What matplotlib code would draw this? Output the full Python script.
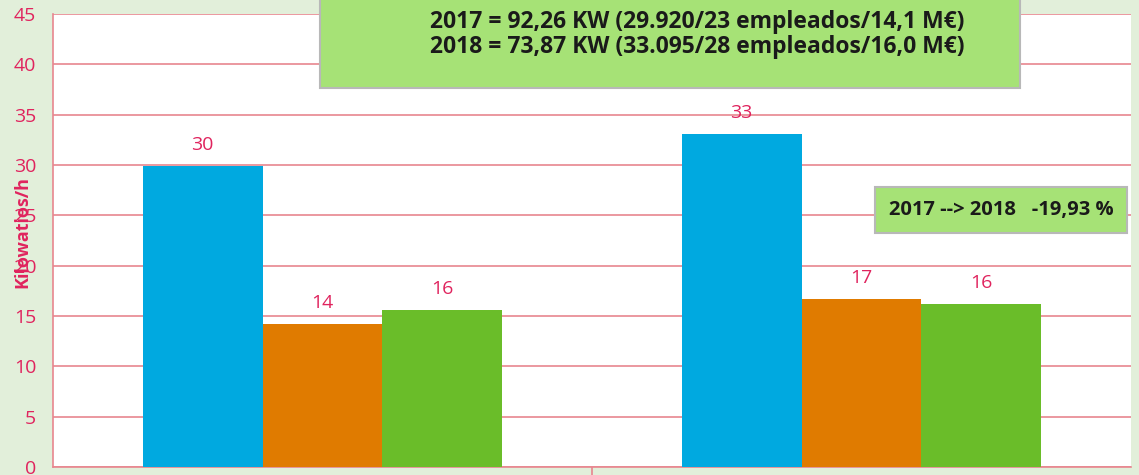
import matplotlib.pyplot as plt
from matplotlib import font_manager
import numpy as np

# -- Data
categories = ['2017', '2018']
serie_a = [29.92, 33.05]
serie_b = [14.2, 16.7]
serie_c = [15.6, 16.2]
labels_a = ['30', '33']
labels_b = ['14', '17']
labels_c = ['16', '16']
yticks = [0, 5, 10, 15, 20, 25, 30, 35, 40, 45]

box_lines = ['2017 = 92,26 KW (29.920/23 empleados/14,1 M€)',
             '2018 = 73,87 KW (33.095/28 empleados/16,0 M€)']
box_small = '2017 --> 2018   -19,93 %'

names = [f.name for f in font_manager.fontManager.ttflist]
fam = 'Liberation Sans Narrow' if 'Liberation Sans Narrow' in names else 'Open Sans'
plt.rcParams['font.family'] = [fam, 'DejaVu Sans']

red = '#E0245E'
grid = '#E8868F'

fig = plt.figure(figsize=(11.39, 4.75), dpi=100)
fig.patch.set_facecolor('#E2EFDA')
ax = fig.add_axes([53/1139, 8/475, (1131-53)/1139, (467-14)/475])
ax.set_facecolor('white')

x = np.arange(len(categories))
w = 0.2226
colors = ['#00A9E0', '#E07B00', '#6ABD29']
for off, vals, labs, c in zip([-w, 0, w], [serie_a, serie_b, serie_c],
                              [labels_a, labels_b, labels_c], colors):
    ax.bar(x + off, vals, width=w, color=c, zorder=3)
    for xi, v, l in zip(x + off, vals, labs):
        ax.text(xi, v + 2.1, l, ha='center', va='center', color=red, fontsize=14)

ax.set_xlim(-0.5, 1.5)
ax.set_ylim(0, 45)
ax.set_yticks(yticks)
ax.set_yticklabels([str(t) for t in yticks], color=red, fontsize=14)
ax.tick_params(axis='y', length=0, pad=12)
ax.set_xticks([0.5])
ax.set_xticklabels([''])
ax.tick_params(axis='x', length=8, color=grid, width=1.2, direction='out')
ax.yaxis.grid(True, color=grid, lw=1.2, zorder=1)
for s in ['top', 'right']:
    ax.spines[s].set_visible(False)
for s in ['left', 'bottom']:
    ax.spines[s].set_color(grid)
    ax.spines[s].set_linewidth(1.2)

fig.text(22/1139, 1 - 232/475, 'Kilowatios/h', rotation=90, ha='center', va='center',
         color=red, fontsize=13, fontweight='bold')

# -- Big green box at the top
fig.patches.append(plt.Rectangle((320/1139, 1 - 88/475), 700/1139, 100/475,
                                 transform=fig.transFigure, facecolor='#A6E276',
                                 edgecolor='#B8B8B8', lw=1.5, zorder=5))
fig.text(697/1139, 1 - 22/475, box_lines[0], ha='center', va='center',
         fontsize=16.5, fontweight='bold', color='#1A1A1A', zorder=6)
fig.text(697/1139, 1 - 47/475, box_lines[1], ha='center', va='center',
         fontsize=16.5, fontweight='bold', color='#1A1A1A', zorder=6)

# -- Small box
fig.patches.append(plt.Rectangle((875/1139, 1 - 233/475), 252/1139, 46/475,
                                 transform=fig.transFigure, facecolor='#A6E276',
                                 edgecolor='#B8B8B8', lw=1.5, zorder=5))
fig.text(1001/1139, 1 - 210/475, box_small, ha='center', va='center',
         fontsize=14.5, fontweight='bold', color='#1A1A1A', zorder=6)

plt.savefig('out.png', dpi=100, facecolor=fig.get_facecolor())
